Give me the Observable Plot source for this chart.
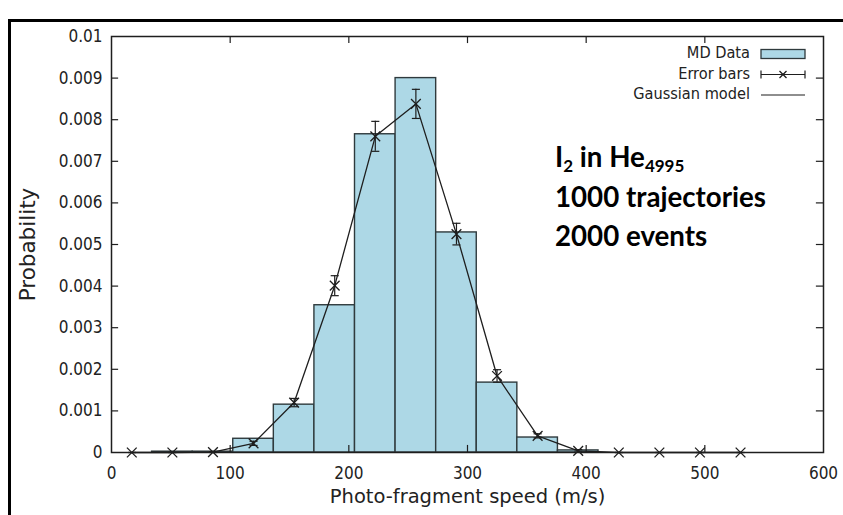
<!DOCTYPE html>
<html>
<head>
<meta charset="utf-8">
<script src="https://cdn.jsdelivr.net/npm/d3@7"></script>
<script src="https://cdn.jsdelivr.net/npm/@observablehq/plot@0.6"></script>
<style>
  html, body { margin: 0; padding: 0; background: #fff; }
  #wrap { position: relative; width: 843px; height: 515px; overflow: hidden; background: #fff; }
  #border { position: absolute; left: 8px; top: 19px; width: 1000px; height: 1000px; border-left: 3px solid #000; border-top: 3px solid #000; }
  #chart { position: absolute; left: 0; top: 0; }
  .leg { position: absolute; font-family: "DejaVu Sans Condensed", "DejaVu Sans", sans-serif; font-stretch: condensed; font-size: 16.2px; color: #222; right: 93px; text-align: right; line-height: 1; white-space: nowrap; }
  #legsvg { position: absolute; left: 0; top: 0; }
  #note { position: absolute; left: 555px; top: 137px; font-family: Lato, sans-serif; font-weight: bold; font-size: 27.7px; line-height: 39.5px; color: #000; white-space: nowrap; }
  #note sub { font-size: 17px; vertical-align: -5px; line-height: 0; }
</style>
</head>
<body>
<div id="wrap">
  <div id="border"></div>
  <div id="chart"></div>
</div>
<script>
// ---- data ----
const binLo   = [34.2, 68.4, 102.6, 136.8, 171.0, 205.2, 239.4, 273.6, 307.8, 342.0, 376.2];
const binHi   = [68.4, 102.6, 136.8, 171.0, 205.2, 239.4, 273.6, 307.8, 342.0, 376.2, 410.4];
const binProb = [0.00002, 0.00002, 0.00033, 0.00115, 0.00354, 0.00765, 0.0090, 0.00529, 0.00168, 0.00036, 0.00005];

const ptX   = [17.1, 51.3, 85.5, 119.7, 153.9, 188.1, 222.3, 256.5, 290.7, 324.9, 359.1, 393.3, 427.5, 461.7, 495.9, 530.1];
const ptY   = [0, 0, 0.00001, 0.00022, 0.0012, 0.00401, 0.0076, 0.00838, 0.00525, 0.00184, 0.0004, 0.00004, 0, 0, 0, 0];
const ptErr = [0, 0, 0.00001, 0.00005, 0.0001, 0.00024, 0.00036, 0.00035, 0.00026, 0.00015, 0.00005, 0.00003, 0, 0, 0, 0];

const xTicks = [0, 100, 200, 300, 400, 500, 600];
const xTickLabels = ["0", "100", "200", "300", "400", "500", "600"];
const yTicks = [0, 0.001, 0.002, 0.003, 0.004, 0.005, 0.006, 0.007, 0.008, 0.009, 0.01];
const yTickLabels = ["0", "0.001", "0.002", "0.003", "0.004", "0.005", "0.006", "0.007", "0.008", "0.009", "0.01"];

const xTitle = "Photo-fragment speed (m/s)";
const yTitle = "Probability";
const legendLabels = ["MD Data", "Error bars", "Gaussian model"];

// ---- tables ----
const bins = binLo.map((lo, i) => ({lo, hi: binHi[i], p: binProb[i]}));
const pts = ptX.map((x, i) => ({x, y: ptY[i], e: ptErr[i]}));
const innerX = xTicks.slice(1, -1);
const innerY = yTicks.slice(1, -1);

const ink = "#1e1e1e";
const capW = 3.4;
const tLenY = 0.00017;
const tLenX = 6;
const tickFont = "DejaVu Sans Condensed, DejaVu Sans, sans-serif";

const plot = Plot.plot({
  width: 843,
  height: 515,
  marginLeft: 111,
  marginRight: 20,
  marginTop: 36,
  marginBottom: 63,
  style: {fontFamily: "DejaVu Sans, sans-serif", background: "transparent", color: "#222"},
  x: {type: "linear", domain: [0, 600]},
  y: {type: "linear", domain: [0, 0.01]},
  marks: [
    Plot.rect(bins, {x1: "lo", x2: "hi", y1: 0, y2: "p", fill: "#add8e6", stroke: "#2f3a3d", strokeWidth: 1.4}),
    Plot.line(pts, {x: "x", y: "y", stroke: ink, strokeWidth: 1.3}),
    Plot.ruleX(pts, {x: "x", y1: d => d.y - d.e, y2: d => d.y + d.e, stroke: ink, strokeWidth: 1.2}),
    Plot.link(pts, {x1: d => d.x - capW, x2: d => d.x + capW, y1: d => d.y + d.e, y2: d => d.y + d.e, stroke: ink, strokeWidth: 1.2}),
    Plot.link(pts, {x1: d => d.x - capW, x2: d => d.x + capW, y1: d => d.y - d.e, y2: d => d.y - d.e, stroke: ink, strokeWidth: 1.2}),
    Plot.dot(pts, {x: "x", y: "y", symbol: "times", r: 4.5, stroke: ink, strokeWidth: 1.3}),
    Plot.ruleX(innerX, {x: d => d, y1: 0, y2: tLenY, stroke: ink, strokeWidth: 1.2}),
    Plot.ruleX(innerX, {x: d => d, y1: 0.01, y2: 0.01 - tLenY, stroke: ink, strokeWidth: 1.2}),
    Plot.ruleY(innerY, {y: d => d, x1: 0, x2: tLenX, stroke: ink, strokeWidth: 1.2}),
    Plot.ruleY(innerY, {y: d => d, x1: 600, x2: 600 - tLenX, stroke: ink, strokeWidth: 1.2}),
    Plot.frame({stroke: ink, strokeWidth: 1.5}),
    Plot.axisX({ticks: xTicks, tickFormat: d => xTickLabels[xTicks.indexOf(d)], tickSize: 0, tickPadding: 14, fontSize: 17, fontFamily: tickFont, label: null, fill: "#222"}),
    Plot.axisY({ticks: yTicks, tickFormat: d => yTickLabels[yTicks.indexOf(d)], tickSize: 0, tickPadding: 9, fontSize: 17, fontFamily: tickFont, label: null, fill: "#222"}),
    Plot.text([xTitle], {text: d => d, frameAnchor: "bottom", dy: 50, fontSize: 19.5, fill: "#222"}),
    Plot.text([yTitle], {text: d => d, frameAnchor: "left", textAnchor: "middle", dx: -83, rotate: -90, fontSize: 21.5, fill: "#222"})
  ]
});
document.getElementById("chart").appendChild(plot);

// ---- legend (annotation overlay) ----
const wrap = document.getElementById("wrap");
const rowsY = [54, 74.5, 95];
legendLabels.forEach((t, i) => {
  const d = document.createElement("div");
  d.className = "leg";
  d.textContent = t;
  d.style.top = (rowsY[i] - 9) + "px";
  wrap.appendChild(d);
});
const NS = "http://www.w3.org/2000/svg";
const lsvg = document.createElementNS(NS, "svg");
lsvg.setAttribute("id", "legsvg");
lsvg.setAttribute("width", 843);
lsvg.setAttribute("height", 515);
const x0 = 761, x1 = 805;
function el(tag, attrs) {
  const e = document.createElementNS(NS, tag);
  for (const k in attrs) e.setAttribute(k, attrs[k]);
  lsvg.appendChild(e);
  return e;
}
el("rect", {x: x0, y: rowsY[0] - 4.5, width: x1 - x0, height: 9, fill: "#add8e6", stroke: "#2f3a3d", "stroke-width": 1.3});
el("line", {x1: x0, x2: x1, y1: rowsY[1], y2: rowsY[1], stroke: ink, "stroke-width": 1.2});
el("line", {x1: x0, x2: x0, y1: rowsY[1] - 4, y2: rowsY[1] + 4, stroke: ink, "stroke-width": 1.2});
el("line", {x1: x1, x2: x1, y1: rowsY[1] - 4, y2: rowsY[1] + 4, stroke: ink, "stroke-width": 1.2});
const cx = (x0 + x1) / 2;
el("path", {d: `M${cx-3.5},${rowsY[1]-3.5}L${cx+3.5},${rowsY[1]+3.5}M${cx-3.5},${rowsY[1]+3.5}L${cx+3.5},${rowsY[1]-3.5}`, stroke: ink, "stroke-width": 1.3, fill: "none"});
el("line", {x1: x0, x2: x1, y1: rowsY[2], y2: rowsY[2], stroke: ink, "stroke-width": 1.2});
wrap.appendChild(lsvg);

// ---- text annotation ----
const note = document.createElement("div");
note.id = "note";
note.innerHTML = "I<sub>2</sub> in He<sub>4995</sub><br>1000 trajectories<br>2000 events";
wrap.appendChild(note);
</script>
</body>
</html>
